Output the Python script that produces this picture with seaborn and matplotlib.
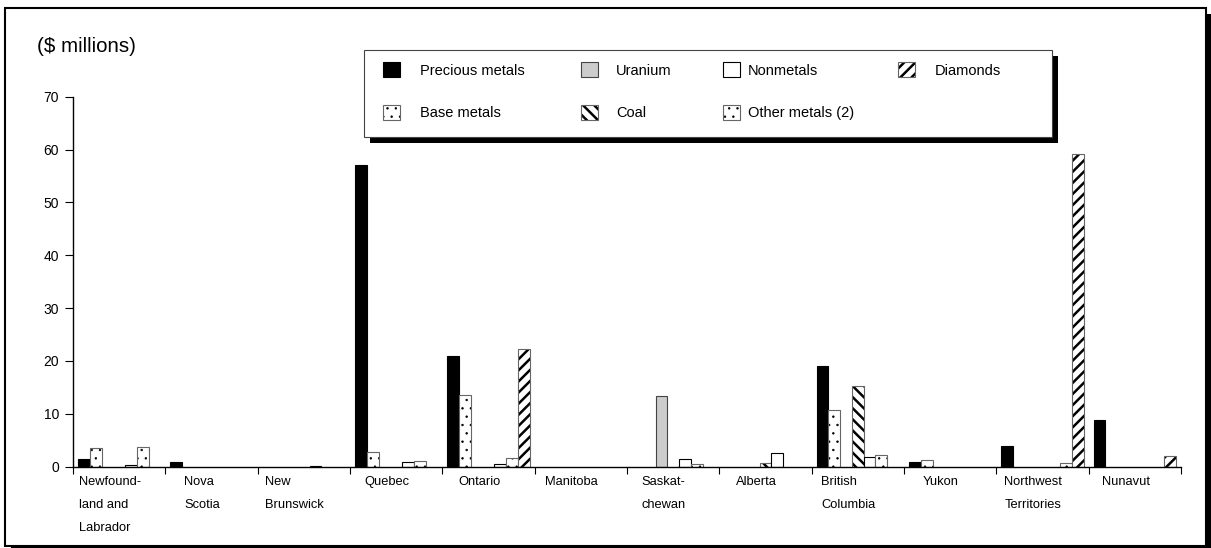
import numpy as np
import pandas as pd
import matplotlib
matplotlib.use("Agg")
import matplotlib.pyplot as plt
import seaborn as sns
from matplotlib.patches import Rectangle

provinces = ["Newfound-\nland and\nLabrador", "Nova\nScotia", "New\nBrunswick", "Quebec",
             "Ontario", "Manitoba", "Saskat-\nchewan", "Alberta", "British\nColumbia",
             "Yukon", "Northwest\nTerritories", "Nunavut"]
series = ["Precious metals", "Base metals", "Uranium", "Coal", "Nonmetals",
          "Other metals (2)", "Diamonds"]

precious = [1.5, 0.9, 0, 57.0, 21.0, 0, 0, 0, 19.0, 0.8, 4.0, 8.8]
base = [3.5, 0, 0, 2.7, 13.5, 0, 0, 0, 10.7, 1.2, 0, 0]
uranium = [0, 0, 0, 0, 0, 0, 13.3, 0, 0, 0, 0, 0]
coal = [0, 0, 0, 0, 0, 0, 0, 0.7, 15.2, 0, 0, 0]
nonmetals = [0.3, 0, 0.1, 0.8, 0.6, 0, 1.5, 2.6, 1.8, 0, 0, 0]
other_metals = [3.7, 0, 0, 1.1, 1.7, 0, 0.6, 0, 2.2, 0, 0.75, 0]
diamonds = [0, 0, 0, 0, 22.2, 0, 0, 0, 0, 0, 59.2, 2.0]
yticks = [0, 10, 20, 30, 40, 50, 60, 70]

values = [precious, base, uranium, coal, nonmetals, other_metals, diamonds]
rows = []
for s, vals in zip(series, values):
    for p, v in zip(provinces, vals):
        if v > 0:
            rows.append({"province": p, "type": s, "value": v})
df = pd.DataFrame(rows)

colors = {"Precious metals": "black", "Base metals": "white", "Uranium": "#cccccc",
          "Coal": "white", "Nonmetals": "white", "Other metals (2)": "white",
          "Diamonds": "white"}
hatches = {"Precious metals": "", "Base metals": "..", "Uranium": "", "Coal": "\\\\\\",
           "Nonmetals": "", "Other metals (2)": "..", "Diamonds": "///"}
hatch_lw = {"Base metals": 0.5, "Other metals (2)": 0.5, "Coal": 1.8, "Diamonds": 1.8}
edges = {"Precious metals": "black", "Base metals": "#666666", "Uranium": "#444444",
         "Coal": "#666666", "Nonmetals": "black", "Other metals (2)": "#666666",
         "Diamonds": "#666666"}

plt.rcParams["font.family"] = ["Liberation Sans", "DejaVu Sans"]
plt.rcParams["hatch.linewidth"] = 1.6

W, H = 1211, 548
fig = plt.figure(figsize=(W / 100, H / 100), dpi=100)
ax = fig.add_axes([73 / W, (H - 466.7) / H, (1181 - 73) / W, (466.7 - 96.7) / H])
ax.patch.set_alpha(0)

sns.barplot(data=df, x="province", y="value", hue="type", order=provinces,
            hue_order=series, palette=colors, width=0.89, errorbar=None,
            saturation=1, edgecolor="black", linewidth=0.8, legend=False, ax=ax)


def style_patch(p, s):
    p.set_hatch(hatches[s])
    p.set_edgecolor(edges[s])
    if s in hatch_lw and hasattr(p, "set_hatch_linewidth"):
        p.set_hatch_linewidth(hatch_lw[s])
    try:
        p._hatch_color = (0, 0, 0, 1)
    except Exception:
        pass


for cont, s in zip(ax.containers, series):
    for p in cont.patches:
        style_patch(p, s)

ax.set_xlim(-0.5, len(provinces) - 0.5)
ax.set_ylim(0, 70)
ax.set_yticks(yticks)
ax.set_yticklabels([str(t) for t in yticks], fontsize=10)
ax.set_xticks(np.arange(-0.5, len(provinces), 1.0))
ax.set_xticklabels([])
ax.tick_params(axis="x", length=5, width=0.8, direction="out")
ax.tick_params(axis="y", length=6, width=0.8, direction="out", pad=4)
ax.set_xlabel("")
ax.set_ylabel("")
for sp in ["top", "right"]:
    ax.spines[sp].set_visible(False)
for sp in ["left", "bottom"]:
    ax.spines[sp].set_linewidth(1.0)
    ax.spines[sp].set_color("black")

for i, p in enumerate(provinces):
    ax.annotate(p, xy=(i - 0.1, 0), xycoords=("data", "axes fraction"),
                xytext=(0, -7), textcoords="offset points", ha="center", va="top",
                multialignment="left", fontsize=9.3, linespacing=2.2)

fig.text(37 / W, 1 - 46 / H, "($ millions)", fontsize=14.8, va="center", ha="left")

# legend box with drop shadow
fig.add_artist(Rectangle((370 / W, 1 - 143 / H), 688 / W, 87 / H, transform=fig.transFigure,
                         facecolor="black", edgecolor="none", zorder=4))
fig.add_artist(Rectangle((364 / W, 1 - 137 / H), 688 / W, 87 / H, transform=fig.transFigure,
                         facecolor="white", edgecolor="#444444", linewidth=0.8, zorder=4.5))

handles = list(ax.containers)
columns = [([0, 1], 383, 1.37), ([2, 3], 581, 1.23), ([4, 5], 723, 0.55), ([6], 898, 1.37)]
for idx, xpx, pad in columns:
    leg = fig.legend(handles=[handles[k] for k in idx], labels=[series[k] for k in idx],
                     loc="upper left", bbox_to_anchor=(xpx / W, 1 - 62 / H),
                     bbox_transform=fig.transFigure, ncol=1,
                     fontsize=10.5, frameon=False,
                     handlelength=1.16, handleheight=1.23, handletextpad=pad,
                     labelspacing=1.87, borderpad=0.0, borderaxespad=0)
    leg.set_zorder(5)
    for h, k in zip(leg.legend_handles, idx):
        style_patch(h, series[k])

fig.add_artist(Rectangle((11 / W, -4 / H), 1201 / W, 538 / H, transform=fig.transFigure,
                         facecolor="black", edgecolor="none", zorder=-3))
fig.add_artist(Rectangle((5 / W, 2 / H), 1201 / W, 538 / H, transform=fig.transFigure,
                         facecolor="white", edgecolor="black", linewidth=1.5, zorder=-2))

fig.savefig("out.png", dpi=100)
